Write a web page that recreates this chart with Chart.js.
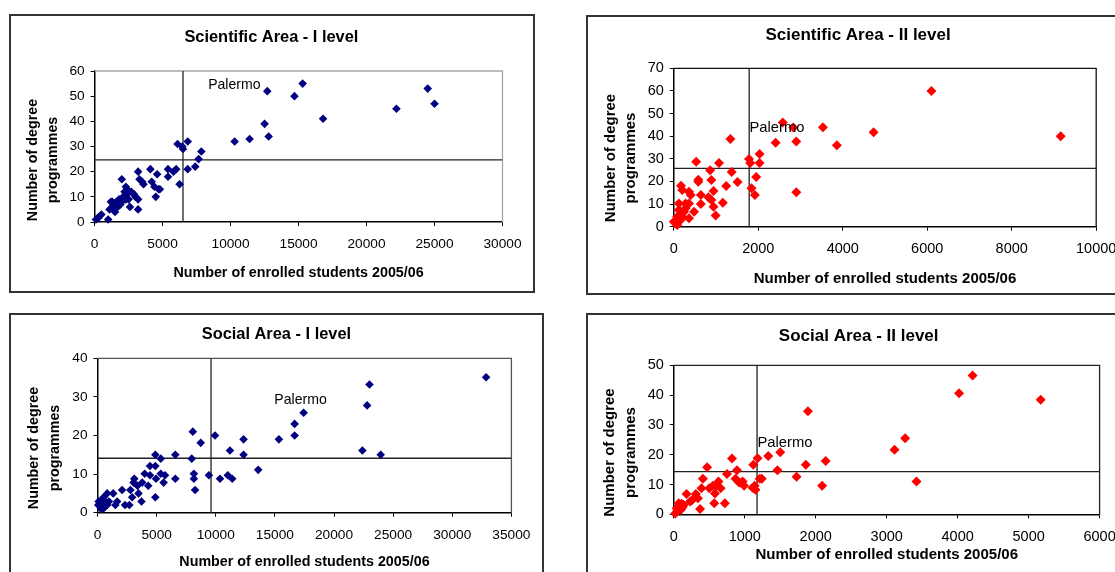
<!DOCTYPE html>
<html>
<head>
<meta charset="utf-8">
<title>Degree programmes vs enrolled students 2005/06</title>
<script src="https://cdn.jsdelivr.net/npm/chart.js@4.4.1/dist/chart.umd.min.js"></script>
<style>
  html, body { margin:0; padding:0; background:#fff; overflow:hidden; }
  body { width:1115px; height:572px; position:relative; }
  .panel { position:absolute; }
  .panel canvas { position:absolute; left:0; top:0; }
  .panel .frame { position:absolute; left:0; top:0; right:0; bottom:0; border:2px solid #333; box-sizing:border-box; pointer-events:none; }
</style>
</head>
<body>
<div class="panel" style="left:9px;top:14px;width:526px;height:279px;"><canvas id="c1" width="526" height="279"></canvas><div class="frame"></div></div>
<div class="panel" style="left:586px;top:15px;width:569px;height:280px;"><canvas id="c2" width="569" height="280"></canvas><div class="frame"></div></div>
<div class="panel" style="left:9px;top:313px;width:535px;height:280px;"><canvas id="c3" width="535" height="280"></canvas><div class="frame"></div></div>
<div class="panel" style="left:586px;top:313px;width:569px;height:280px;"><canvas id="c4" width="569" height="280"></canvas><div class="frame"></div></div>
<script>
/* ---------- data ---------- */
var X_TITLE = 'Number of enrolled students 2005/06';
var Y_TITLE = ['Number of degree', 'programmes'];
var LABEL = 'Palermo';

// Scientific Area - I level
var SCI1_STUDENTS   = [100,250,300,500,1000,1100,1200,1300,1350,1400,1500,1600,1700,1700,1800,1900,2000,2000,2100,2200,2300,2300,2400,2400,2500,2600,2700,2900,3000,3200,3200,3200,3300,3500,3600,4100,4200,4400,4500,4600,4700,4800,5400,5400,5800,6000,6250,6100,6450,6500,6850,6850,7400,7650,7850,10300,11400,12500,12800,12700,14700,15300,16800,22200,24500,25000];
var SCI1_PROGRAMMES = [1,1.5,2,3,1,5,8,8,6,7,4,8,6,8,9,7,17,8,10,12,14,9,13,11,9,6,12,11,10,20,5,9,17,16,15,21,16,14,10,19,13,13,21,18,20,21,15,31,30,29,32,21,22,25,28,32,33,39,34,52,50,55,41,45,53,47];
var SCI1_X_TICKS = [0,5000,10000,15000,20000,25000,30000];
var SCI1_Y_TICKS = [0,10,20,30,40,50,60];
var SCI1_REF = [6500, 24.7];          // vertical / horizontal reference lines
var SCI1_LABEL_AT = [8350, 54.4];

// Scientific Area - II level
var SCI2_STUDENTS   = [9160,6100,4730,3860,3530,2900,2900,2830,2580,2410,2030,2030,1950,1920,1840,1810,1780,1510,1370,1340,1240,1160,1070,990,940,940,890,860,890,820,640,640,580,580,530,480,400,360,360,360,280,200,170,120,200,80,65,40,0,120,240,280,160,200,80];
var SCI2_PROGRAMMES = [40,60,41.7,36,44,37.7,15.2,43.8,46,37.1,32.1,28.1,22,14,17,28.1,29.9,19.7,24.2,38.8,18,10.6,28.1,4.9,8.8,15.8,20.6,24.9,11.8,13,14,10,19.9,20.8,28.7,6.6,14,15.5,3.7,10.3,10.3,16.2,18.1,10.3,5.9,4.4,2.2,1.5,2.2,7.4,6.6,8.1,3,4.4,0.7];
var SCI2_X_TICKS = [0,2000,4000,6000,8000,10000];
var SCI2_Y_TICKS = [0,10,20,30,40,50,60,70];
var SCI2_REF = [1785, 25.8];
var SCI2_LABEL_AT = [1790, 43.6];

// Social Area - I level
var SOC1_STUDENTS   = [32860,23000,22800,23950,22400,17430,16670,16670,15340,13590,12350,12350,11200,11390,11020,10360,9940,9420,8730,8060,7970,8150,8150,8250,6580,6580,5710,5590,5350,5350,4890,4890,4950,4890,4440,4440,4290,3990,3780,3720,3380,3110,3050,2930,2780,2080,2690,2330,1660,1510,1330,820,510,360,210,60,510,660,820,100,300,970,3470];
var SOC1_PROGRAMMES = [35.1,33.2,27.8,15,16.1,25.9,23,20,19,11.1,19,15,16.1,8.8,9.7,8.8,20,9.7,18.1,21,14,10.1,8.8,5.9,15,8.8,9.7,7.8,14,10.1,15,12.1,8.8,4,12.1,9.7,7,10.1,7.8,2.9,7,8.8,7.8,4,5.9,5.9,2,2,2.9,2,5,5,4,2,2.9,2,1.1,2.9,2,2.9,1,2.9,5];
var SOC1_X_TICKS = [0,5000,10000,15000,20000,25000,30000,35000];
var SOC1_Y_TICKS = [0,10,20,30,40];
var SOC1_REF = [9600, 14.1];
var SOC1_LABEL_AT = [14950, 29.2];

// Social Area - II level
var SOC2_STUDENTS   = [5170,4210,4020,3420,3260,3110,2140,2090,1890,1860,1730,1500,1460,1330,1240,1210,1180,1150,1140,1110,1120,990,970,920,890,870,820,750,720,660,630,600,580,570,550,470,500,410,390,370,340,310,260,230,180,140,120,100,70,50,20,90,40,110];
var SOC2_PROGRAMMES = [38.4,46.6,40.6,11,25.5,21.7,17.9,9.6,34.6,16.6,12.6,20.8,14.8,19.6,11.9,11.9,18.8,8.2,9.6,8.9,16.6,9.6,11,10.7,14.8,11.9,18.7,13.5,3.7,8.7,11,9.6,7,3.7,9.6,15.8,8.7,11.9,8.7,1.8,5.4,6.8,4.8,4.3,6.8,3.1,2.3,1.5,3.7,1.1,0.3,2.6,2,3.5];
var SOC2_X_TICKS = [0,1000,2000,3000,4000,5000,6000];
var SOC2_Y_TICKS = [0,10,20,30,40,50];
var SOC2_REF = [1173, 14.3];
var SOC2_LABEL_AT = [1178, 23.8];

/* ---------- look & layout ---------- */
var FONT = "'Liberation Sans', Arial, sans-serif";
var NAVY = '#000080';
var RED  = '#ff0000';

var LEFT_FONTS  = { title: 16.4, axis: 14.3, tick: 13.7, label: 14.1 };
var RIGHT_FONTS = { title: 17,   axis: 15,   tick: 14.5, label: 14.8 };

// texts drawn on the canvas that Chart.js has no slot for: title, y title, label, frame
var panelText = {
  id: 'panelText',
  beforeDatasetsDraw: function(chart, args, o) {
    var a = chart.chartArea, ctx = chart.ctx;
    ctx.save();
    ctx.strokeStyle = o.frameColor;
    ctx.lineWidth = 1.3;
    ctx.beginPath();
    ctx.moveTo(a.left, a.top);
    ctx.lineTo(a.right, a.top);
    ctx.lineTo(a.right, a.bottom);
    ctx.stroke();
    ctx.restore();
  },
  afterDraw: function(chart, args, o) {
    var ctx = chart.ctx, f = o.fonts;
    ctx.save();
    ctx.fillStyle = '#000';
    ctx.textAlign = 'center';
    ctx.textBaseline = 'middle';
    ctx.font = 'bold ' + f.title + 'px ' + FONT;
    ctx.fillText(o.title, o.titleAt[0], o.titleAt[1]);

    ctx.font = 'bold ' + f.axis + 'px ' + FONT;
    Y_TITLE.forEach(function(line, i) {
      ctx.save();
      ctx.translate(o.yTitleX + i * o.yGap, o.yTitleY);
      ctx.rotate(-Math.PI / 2);
      ctx.fillText(line, 0, 0);
      ctx.restore();
    });

    ctx.textAlign = 'left';
    ctx.font = f.label + 'px ' + FONT;
    ctx.fillText(LABEL, chart.scales.x.getPixelForValue(o.labelAt[0]),
                        chart.scales.y.getPixelForValue(o.labelAt[1]));
    ctx.restore();
  }
};

function makePanel(p) {
  var pts = p.xs.map(function(x, i) { return { x: x, y: p.ys[i] }; });
  var xMin = p.xTicks[0], xMax = p.xTicks[p.xTicks.length - 1];
  var yMin = p.yTicks[0], yMax = p.yTicks[p.yTicks.length - 1];
  var f = p.fonts;
  var lh = f.axis * 1.2;

  return new Chart(document.getElementById(p.id), {
    type: 'scatter',
    data: {
      datasets: [{
        data: pts,
        pointStyle: 'rectRot',
        pointRadius: p.marker,
        pointBackgroundColor: p.color,
        pointBorderColor: p.color,
        pointBorderWidth: 0,
        clip: false,
        order: 1
      }, {
        type: 'line',
        data: [{ x: p.ref[0], y: yMin }, { x: p.ref[0], y: yMax }],
        borderColor: '#222', borderWidth: 1.3, pointRadius: 0, order: 2
      }, {
        type: 'line',
        data: [{ x: xMin, y: p.ref[1] }, { x: xMax, y: p.ref[1] }],
        borderColor: '#222', borderWidth: 1.3, pointRadius: 0, order: 2
      }]
    },
    options: {
      responsive: false,
      animation: false,
      events: [],
      layout: { padding: { left: 0, top: p.plot[1], right: p.w - p.plot[2], bottom: 0 } },
      plugins: {
        legend: { display: false },
        tooltip: { enabled: false },
        panelText: {
          title: p.title, titleAt: p.titleAt, yTitleX: p.yTitleX, yTitleY: p.yTitleY, yGap: p.yGap,
          labelAt: p.labelAt, frameColor: p.frameColor, fonts: f
        }
      },
      scales: {
        x: {
          type: 'linear', min: xMin, max: xMax,
          afterBuildTicks: function(s) { s.ticks = p.xTicks.map(function(v) { return { value: v }; }); },
          afterFit: function(s) { s.height = p.h - p.plot[3]; },
          grid: { drawOnChartArea: false, drawTicks: true, tickLength: 4, tickColor: '#000' },
          border: { display: true, color: '#000', width: 1.5 },
          ticks: {
            color: '#000', padding: 10, maxRotation: 0, autoSkip: false,
            font: { family: FONT, size: f.tick },
            callback: function(v) { return String(v); }
          },
          title: {
            display: true, text: X_TITLE, color: '#000',
            font: { family: FONT, size: f.axis, weight: 'bold' },
            padding: { top: 0, bottom: p.h - p.xTitleY - lh / 2 }
          }
        },
        y: {
          type: 'linear', min: yMin, max: yMax,
          afterBuildTicks: function(s) { s.ticks = p.yTicks.map(function(v) { return { value: v }; }); },
          afterFit: function(s) { s.width = p.plot[0]; },
          grid: { drawOnChartArea: false, drawTicks: true, tickLength: 4, tickColor: '#000' },
          border: { display: true, color: '#000', width: 1.5 },
          ticks: {
            color: '#000', padding: 6, autoSkip: false,
            font: { family: FONT, size: f.tick },
            callback: function(v) { return String(v); }
          }
        }
      }
    },
    plugins: [panelText]
  });
}

makePanel({
  id: 'c1', w: 526, h: 279, plot: [85.6, 57, 493.5, 208],
  title: 'Scientific Area - I level', titleAt: [262.4, 23],
  yTitleX: 24.2, yGap: 19.7, yTitleY: 146, xTitleY: 259,
  xs: SCI1_STUDENTS, ys: SCI1_PROGRAMMES, xTicks: SCI1_X_TICKS, yTicks: SCI1_Y_TICKS,
  ref: SCI1_REF, labelAt: SCI1_LABEL_AT, color: NAVY, marker: 4.3, frameColor: '#a6a6a6', fonts: LEFT_FONTS
});
makePanel({
  id: 'c2', w: 569, h: 280, plot: [87.8, 53.3, 510.2, 211.7],
  title: 'Scientific Area - II level', titleAt: [272.1, 20],
  yTitleX: 24.7, yGap: 19.8, yTitleY: 143, xTitleY: 264,
  xs: SCI2_STUDENTS, ys: SCI2_PROGRAMMES, xTicks: SCI2_X_TICKS, yTicks: SCI2_Y_TICKS,
  ref: SCI2_REF, labelAt: SCI2_LABEL_AT, color: RED, marker: 5, frameColor: '#111', fonts: RIGHT_FONTS
});
makePanel({
  id: 'c3', w: 535, h: 280, plot: [88.5, 45.3, 502.4, 199.7],
  title: 'Social Area - I level', titleAt: [267.4, 21],
  yTitleX: 24.9, yGap: 21.5, yTitleY: 135, xTitleY: 248.7,
  xs: SOC1_STUDENTS, ys: SOC1_PROGRAMMES, xTicks: SOC1_X_TICKS, yTicks: SOC1_Y_TICKS,
  ref: SOC1_REF, labelAt: SOC1_LABEL_AT, color: NAVY, marker: 4.3, frameColor: '#555', fonts: LEFT_FONTS
});
makePanel({
  id: 'c4', w: 569, h: 280, plot: [87.8, 52.3, 513.6, 201.3],
  title: 'Social Area - II level', titleAt: [272.7, 23.7],
  yTitleX: 24, yGap: 21.2, yTitleY: 139.5, xTitleY: 242,
  xs: SOC2_STUDENTS, ys: SOC2_PROGRAMMES, xTicks: SOC2_X_TICKS, yTicks: SOC2_Y_TICKS,
  ref: SOC2_REF, labelAt: SOC2_LABEL_AT, color: RED, marker: 5, frameColor: '#222', fonts: RIGHT_FONTS
});
</script>
</body>
</html>
